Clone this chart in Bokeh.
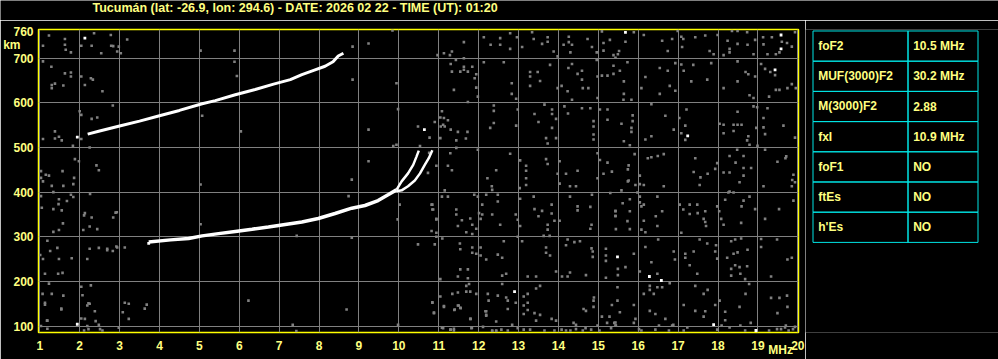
from bokeh.plotting import figure
from bokeh.models import Range1d, FixedTicker, LinearAxis
from bokeh.layouts import row, column
from bokeh.embed import file_html
from bokeh.resources import INLINE
from bokeh.core.properties import value

# ---------------- data ----------------
title_text = "Tucumán (lat: -26.9, lon: 294.6) - DATE: 2026 02 22 - TIME (UT): 01:20"
freq_ticks = list(range(1, 21))
height_grid = [100, 200, 300, 400, 500, 600, 700]
height_ticks = height_grid + [760]
unit_y_label = {"km": 729}
unit_x_label = {"MHz": 19.57}

# second-hop F2 trace (MHz, km)
upper_f = [2.2, 2.5, 3.0, 3.5, 4.0, 4.5, 5.07, 5.4, 5.9, 6.4, 6.86, 7.28, 7.57, 7.9, 8.15, 8.35, 8.48, 8.61]
upper_h = [530, 537, 548, 559, 571, 583, 598, 605, 618, 630, 642, 652, 663, 674, 682, 692, 705, 711]
# F2 first-hop trace
lower_f = [3.73, 4.28, 4.73, 5.07, 5.48, 5.9, 6.32, 6.73, 7.15, 7.57, 7.98, 8.4, 8.82, 9.15, 9.48, 9.73, 9.94]
lower_h = [288, 293, 296, 302, 307, 312, 317, 322, 327.5, 333, 341, 352, 364, 370, 381, 394, 405]
# ordinary branch near foF2
o_branch_f = [9.94, 10.07, 10.23, 10.36, 10.44, 10.5]
o_branch_h = [405, 424, 442, 461, 479, 493]
# extraordinary branch near fxI
x_branch_f = [9.94, 10.07, 10.23, 10.40, 10.53, 10.65, 10.75, 10.84]
x_branch_h = [402, 404, 413, 426, 442, 461, 476, 494]

# bright isolated echoes
bright_f = [15.68, 19.58, 19.58, 19.43, 17.24, 12.90, 15.48, 16.28, 16.58, 17.89, 18.95, 2.13, 1.94, 1.94, 10.64, 3.73]
bright_h = [758, 752, 721, 674, 526, 177, 255, 211, 202, 103, 90, 745, 523, 104, 540, 285]

# grey noise echoes
noise_f = [
 11.63,12.13,12.30,12.54,12.54,12.79,12.79,12.96,13.09,13.34,13.38,13.59,13.73,13.73,13.88,13.98,14.13,14.26,14.26,14.34,14.30,14.73,14.84,14.96,15.09,15.13,15.13,15.29,15.38,10.97,11.13,11.28,11.33,11.63,
 11.30,11.33,11.43,11.54,11.63,11.63,11.73,11.84,11.90,11.94,11.94,11.38,11.73,11.98,12.13,12.63,12.83,12.83,12.94,13.29,13.29,13.48,13.54,13.29,13.79,13.98,14.08,14.23,14.25,14.34,14.34,14.48,14.59,14.59,14.61,14.75,14.96,14.98,15.09,15.23,15.38,15.38,14.98,
 11.08,11.04,11.13,11.23,10.90,11.05,11.15,11.30,11.48,11.72,11.68,11.44,11.04,12.38,12.38,12.38,12.29,12.94,12.98,13.40,13.50,13.65,13.84,13.84,13.94,13.84,13.69,13.73,13.94,14.15,14.24,14.59,14.80,14.88,14.88,14.88,14.88,15.04,15.23,15.23,
 11.29,11.44,10.94,11.23,11.33,11.98,12.79,13.04,13.19,13.19,13.19,13.69,13.73,14.03,13.98,14.19,14.48,14.98,15.04,15.23,15.34,15.13,14.98,12.22,12.44,
 15.68,15.89,16.14,16.60,16.74,16.85,16.99,17.08,17.13,17.10,17.43,17.68,17.79,17.89,17.99,18.14,18.24,18.29,18.29,18.35,18.49,18.49,18.73,18.74,18.93,18.89,19.13,19.14,19.24,19.35,19.45,19.54,19.60,19.73,19.85,19.93,15.52,15.49,15.43,
 15.73,15.54,15.64,15.64,15.83,15.63,16.18,16.08,16.54,16.74,16.54,16.79,16.93,16.93,17.14,17.08,17.33,17.38,17.73,17.83,18.14,18.49,18.49,18.69,18.76,18.93,18.79,18.89,19.08,19.18,19.31,19.43,19.45,19.54,19.28,19.74,19.85,19.95,
 15.86,15.58,15.86,15.83,15.83,15.64,15.79,16.33,16.68,16.89,16.33,16.18,17.21,17.03,17.18,17.08,17.18,18.04,18.14,18.39,18.49,18.59,18.49,18.14,18.39,18.76,18.73,18.96,18.98,18.89,19.24,19.14,19.14,19.18,19.64,19.93,18.79,18.99,
 15.91,16.24,16.33,16.49,16.64,15.76,15.74,15.76,16.04,17.43,17.39,17.56,17.74,17.93,17.98,18.29,18.48,18.64,18.44,18.64,18.83,18.64,18.14,18.29,19.18,19.49,19.71,19.69,19.89,19.86,
 11.15,11.08,11.23,10.84,10.84,10.94,10.94,10.94,11.44,11.44,11.58,11.48,11.69,11.79,11.84,11.84,11.94,11.89,11.98,12.09,12.09,12.05,12.01,12.19,12.33,12.34,12.48,12.48,12.34,12.54,12.93,12.98,13.04,13.04,13.19,13.03,13.38,13.40,13.50,13.59,13.83,13.83,13.73,13.73,13.90,14.03,14.03,14.29,14.44,14.29,14.48,14.48,14.80,14.84,14.83,14.80,15.30,15.43,15.43,
 11.09,11.53,11.54,11.84,11.84,11.94,12.05,12.05,12.19,12.48,12.59,12.63,11.54,11.73,11.48,11.73,12.59,12.69,12.98,13.09,13.63,13.78,13.69,13.69,13.79,13.23,13.44,13.94,14.09,14.23,14.19,14.40,14.54,14.29,14.23,14.69,14.83,14.86,14.86,15.19,15.19,15.19,15.19,
 11.04,11.69,11.76,11.69,11.79,11.94,12.23,11.34,11.48,11.48,11.54,11.39,11.13,11.04,10.84,10.88,11.79,12.19,12.19,12.44,12.48,12.59,12.69,12.73,12.73,12.93,13.13,13.13,13.13,13.23,13.23,13.23,13.44,13.54,13.40,13.44,13.54,13.83,13.94,14.38,14.44,14.63,14.69,14.88,14.88,14.89,15.09,15.22,15.28,15.34,15.40,
 11.11,11.29,11.38,11.82,12.34,12.44,12.57,12.73,12.84,12.98,13.13,13.29,13.65,13.90,14.08,14.19,14.30,14.44,14.61,14.68,14.82,14.98,15.03,15.32,15.44,
 15.74,15.93,16.04,16.14,16.64,17.54,18.54,19.14,19.85,19.93,15.58,
 15.79,15.61,15.43,15.43,15.79,15.73,15.79,15.44,16.08,16.14,16.04,16.04,15.98,16.48,16.44,16.14,16.08,16.18,16.48,16.60,17.04,17.13,17.29,17.29,17.48,17.49,17.68,17.64,17.68,17.70,17.08,17.98,18.03,18.08,18.14,18.18,18.26,18.39,18.29,18.64,18.79,18.59,18.93,18.58,19.18,19.53,19.89,
 15.49,15.49,15.68,15.89,16.04,16.18,16.33,16.50,16.48,16.92,16.89,17.18,17.18,17.39,17.29,17.48,17.54,17.73,17.95,17.93,17.98,18.23,18.33,18.43,18.58,18.39,18.49,18.43,18.54,18.33,18.33,18.56,18.73,18.74,18.68,19.08,19.08,19.48,19.33,19.74,19.85,
 15.48,15.48,15.54,15.43,15.89,15.93,15.89,16.14,16.29,16.29,16.39,16.48,16.60,16.79,16.29,16.43,16.68,16.88,17.14,17.43,17.64,17.74,17.43,17.64,17.68,17.93,18.04,18.18,18.18,18.54,18.69,18.78,18.82,19.49,19.73,19.74,19.33,19.54,
 15.43,16.02,16.08,16.43,16.52,16.77,16.85,17.14,17.23,17.98,18.09,18.29,18.56,18.68,19.28,19.48,19.58,19.68,19.70,19.77,19.88,19.93,
 1.23,1.08,1.63,1.63,1.65,1.78,2.36,2.04,2.30,2.54,2.79,2.84,2.94,1.08,1.29,1.30,1.30,1.38,1.63,1.78,1.78,2.04,2.28,2.33,2.13,2.57,1.59,2.83,2.00,2.04,2.30,2.44,1.08,1.38,1.38,1.48,1.55,2.04,1.83,1.88,1.98,2.25,2.42,2.48,1.03,1.15,1.03,1.08,1.23,1.57,1.86,1.59,1.30,1.78,1.84,1.03,1.05,1.34,1.48,1.47,1.34,1.55,1.68,1.84,2.26,2.11,2.13,2.30,2.44,2.25,2.09,2.84,2.93,1.58,1.34,1.48,1.19,1.01,1.08,1.26,1.44,1.48,1.80,2.19,2.25,2.48,2.69,2.83,2.92,1.13,1.57,1.46,1.23,1.07,1.30,1.59,1.13,1.54,2.04,2.28,2.22,2.07,2.38,2.04,1.18,1.03,2.19,2.22,2.51,2.57,1.19,2.11,
 1.13,1.54,1.19,2.19,2.25,2.13,2.40,2.48,2.98,3.13,3.23,3.08,3.23,3.68,3.63,6.23,7.34,7.43,8.69,9.98,10.84,10.88,11.13,11.40,11.50,11.55,11.80,11.83,12.17,12.19,12.11,12.25,12.34,12.44,11.08,11.30,11.38,
 5.03,5.88,8.84,9.24,9.84,5.88,5.94,8.84,9.94,9.98,9.24,6.04,5.07,10.48,10.77,11.11,9.94,9.86,10.53,10.76,9.24,10.73,8.82,10.02,10.82,10.86,10.94,10.82,8.82,10.48,10.90,9.97,5.03,5.03,2.90,2.94,2.69,3.13,8.74,7.44,3.03,2.98,3.19,2.78,
]
noise_h = [
 736,747,730,745,730,756,721,747,725,758,743,732,747,737,715,704,730,748,736,730,713,743,725,713,760,734,717,741,707,707,711,707,715,700,
 687,670,696,670,681,674,670,681,655,664,634,629,602,614,691,691,644,620,609,669,659,669,649,638,685,633,638,626,678,687,607,665,672,652,633,633,696,659,661,661,683,665,611,
 581,567,566,561,557,547,547,540,535,535,520,516,521,594,582,555,544,549,585,575,557,596,585,575,564,544,521,509,521,592,576,588,588,559,547,529,518,585,585,562,
 487,499,459,459,449,495,486,471,459,448,431,474,463,469,441,441,448,487,472,466,446,441,431,431,449,
 737,758,752,739,716,743,761,748,743,725,747,751,716,709,752,707,739,721,713,761,732,761,758,730,741,709,747,731,709,747,709,713,737,734,726,758,716,709,701,
 691,672,648,620,607,607,658,633,678,672,620,638,627,689,672,686,648,685,652,689,633,693,648,669,664,659,617,611,687,676,669,662,629,629,614,633,642,633,
 572,553,559,544,535,514,505,597,571,540,525,518,585,566,549,532,517,553,551,551,551,551,580,532,537,525,516,544,590,592,588,566,545,530,549,522,506,504,
 485,476,478,481,485,460,451,426,437,476,445,433,441,452,465,481,495,481,466,454,454,437,444,444,495,468,480,476,439,427,
 404,390,390,372,361,340,309,300,361,350,337,324,310,341,327,306,318,394,390,372,350,340,353,394,413,405,394,379,350,327,350,338,324,385,416,409,390,362,346,358,372,352,327,316,336,419,336,413,413,390,368,359,367,394,327,318,398,358,347,
 296,285,272,276,264,262,276,258,249,260,253,290,227,227,211,207,213,217,300,290,302,302,276,264,258,211,211,222,211,294,281,288,290,220,211,214,274,267,255,273,258,246,208,
 205,190,194,177,177,172,172,172,175,146,141,136,143,166,153,129,116,133,123,110,168,194,164,157,138,152,166,146,127,172,152,136,184,190,129,112,125,116,112,107,103,138,134,157,143,164,121,107,121,147,107,
 95,92,90,95,90,90,92,90,103,95,92,92,90,90,92,90,90,93,90,95,92,101,90,95,101,
 424,416,418,416,413,416,422,413,413,422,404,
 384,375,357,346,357,335,317,317,368,372,390,377,399,390,346,336,316,310,324,357,372,361,372,351,372,353,357,340,333,324,309,368,357,340,327,383,399,399,401,381,390,368,362,331,340,362,381,
 228,214,232,262,222,277,243,294,217,249,267,262,253,267,236,217,294,285,281,267,251,253,290,294,296,262,265,236,232,228,213,217,234,271,205,295,277,294,211,249,253,
 187,157,131,108,147,116,107,172,190,181,172,187,187,196,134,127,116,103,147,190,172,181,134,121,133,147,157,132,113,143,172,194,107,129,168,143,163,163,
 101,93,90,92,101,90,101,90,97,92,101,97,101,90,90,93,93,97,101,90,93,98,
 751,728,743,730,719,713,756,728,728,711,728,727,715,693,681,640,633,643,666,668,659,659,655,652,640,626,639,594,581,573,564,567,519,536,520,524,516,519,504,474,469,500,460,449,447,439,432,424,437,447,432,414,414,394,418,391,365,400,384,373,362,359,380,389,396,348,353,343,317,323,315,343,355,330,311,315,291,259,250,268,275,250,252,250,273,275,273,268,278,217,219,217,195,172,172,168,148,137,188,191,151,169,133,117,112,100,100,93,93,90,94,90,
 152,139,112,146,150,116,111,103,96,152,150,131,116,148,139,157,103,89,137,103,152,130,145,137,146,140,116,96,133,125,98,157,89,89,96,92,94,
 717,717,726,733,762,692,660,652,644,586,540,536,571,547,522,551,506,503,503,488,469,443,428,372,372,361,339,313,298,283,283,339,417,328,354,276,270,276,391,302,711,726,742,752,
]

table_params = ["foF2", "MUF(3000)F2", "M(3000)F2", "fxI", "foF1", "ftEs", "h'Es"]
table_values = ["10.5 MHz", "30.2 MHz", "2.88", "10.9 MHz", "NO", "NO", "NO"]

# ---------------- style ----------------
FONT = "Liberation Sans"
TXT = "#ffff80"
FRAME = "#ffff00"
GRID = "#808080"
CYAN = "#00e5e5"
HEAD_H = 20          # header strip height (px)
TOP_B = 29 - HEAD_H  # ionogram top border inside its own figure
BOT_B = 26
BODY_H = 359 - HEAD_H
FRAME_TOP = HEAD_H + TOP_B          # page y of frame top
FRAME_BOT = HEAD_H + BODY_H - BOT_B  # page y of frame bottom


def style_axis(ax, standoff):
    ax.axis_line_color = None
    ax.major_tick_line_color = None
    ax.minor_tick_line_color = None
    ax.major_tick_out = 0
    ax.major_tick_in = 0
    ax.major_label_text_color = TXT
    ax.major_label_text_font = FONT
    ax.major_label_text_font_style = "bold"
    ax.major_label_text_font_size = "12px"
    ax.major_label_standoff = standoff


def blank_panel(w, h, y_top, y_bot, b_top=0, b_bot=0):
    f = figure(width=w, height=h, output_backend="svg", toolbar_location=None,
               x_range=Range1d(0, w), y_range=Range1d(y_bot, y_top),
               x_axis_type=None, y_axis_type=None, title=None,
               min_border_left=0, min_border_right=0,
               min_border_top=b_top, min_border_bottom=b_bot)
    f.background_fill_color = "black"
    f.border_fill_color = "black"
    f.outline_line_color = None
    f.grid.visible = False
    return f


# ---------------- header line ----------------
head = blank_panel(998, HEAD_H, 0, HEAD_H)
head.text(x=[92], y=[7], text=[title_text], text_color=TXT, text_font=value(FONT),
          text_font_style="bold", text_font_size="12.5px",
          text_baseline="alphabetic", text_align="left")

# ---------------- ionogram ----------------
p = figure(width=805, height=BODY_H, output_backend="svg", toolbar_location=None,
           title=None,
           x_range=Range1d(0.9675, 20.0175), y_range=Range1d(85.5, 764.3),
           min_border_left=36, min_border_right=7, min_border_top=TOP_B,
           min_border_bottom=BOT_B)
p.background_fill_color = "black"
p.border_fill_color = "black"
p.outline_line_color = FRAME
p.outline_line_width = 1.5

p.xaxis.ticker = FixedTicker(ticks=freq_ticks)
p.yaxis.ticker = FixedTicker(ticks=height_ticks)
p.xgrid.ticker = FixedTicker(ticks=freq_ticks)
p.ygrid.ticker = FixedTicker(ticks=height_grid)
p.grid.grid_line_color = GRID
p.grid.grid_line_width = 1
style_axis(p.xaxis[0], 8)
style_axis(p.yaxis[0], 5)

# unit labels as extra axes carrying a single tick each
km_axis = LinearAxis(ticker=FixedTicker(ticks=list(unit_y_label.values())),
                     major_label_overrides={v: k for k, v in unit_y_label.items()})
style_axis(km_axis, -10)
p.add_layout(km_axis, "left")
mhz_axis = LinearAxis(ticker=FixedTicker(ticks=list(unit_x_label.values())),
                      major_label_overrides={v: k for k, v in unit_x_label.items()})
style_axis(mhz_axis, -10)
p.add_layout(mhz_axis, "below")

p.scatter(noise_f, noise_h, marker="square", size=2.6, fill_color=GRID, line_color=None)
p.scatter(bright_f, bright_h, marker="square", size=2.8, fill_color="white", line_color=None)

p.line(upper_f, upper_h, line_color="white", line_width=3)
p.line(lower_f, lower_h, line_color="white", line_width=3.5)
p.line(o_branch_f, o_branch_h, line_color="white", line_width=2.5)
p.line(x_branch_f, x_branch_h, line_color="white", line_width=2.5)

# ---------------- parameter table (frame aligned with the ionogram frame) ----------------
t = blank_panel(193, BODY_H, FRAME_TOP, FRAME_BOT, b_top=TOP_B, b_bot=BOT_B)

row_h = 30.3
top0 = 30.5
n = len(table_params)
tops = [top0 + i * row_h for i in range(n)]
bottoms = [tp + row_h for tp in tops]
mids = [tp + row_h / 2 for tp in tops]
t.quad(left=[7.5] * n, right=[102.5] * n, top=tops, bottom=bottoms,
       fill_color=None, line_color=CYAN, line_width=1)
t.quad(left=[102.5] * n, right=[172.5] * n, top=tops, bottom=bottoms,
       fill_color=None, line_color=CYAN, line_width=1)
t.text(x=[12.7] * n, y=mids, text=table_params, text_color=TXT, text_font=value(FONT),
       text_font_style="bold", text_font_size="12px", text_baseline="middle", text_align="left")
t.text(x=[107.7] * n, y=mids, text=table_values, text_color=TXT, text_font=value(FONT),
       text_font_style="bold", text_font_size="12px", text_baseline="middle", text_align="left")

layout = column(head, row(p, t))
open("out.html", "w").write(file_html(layout, INLINE))
